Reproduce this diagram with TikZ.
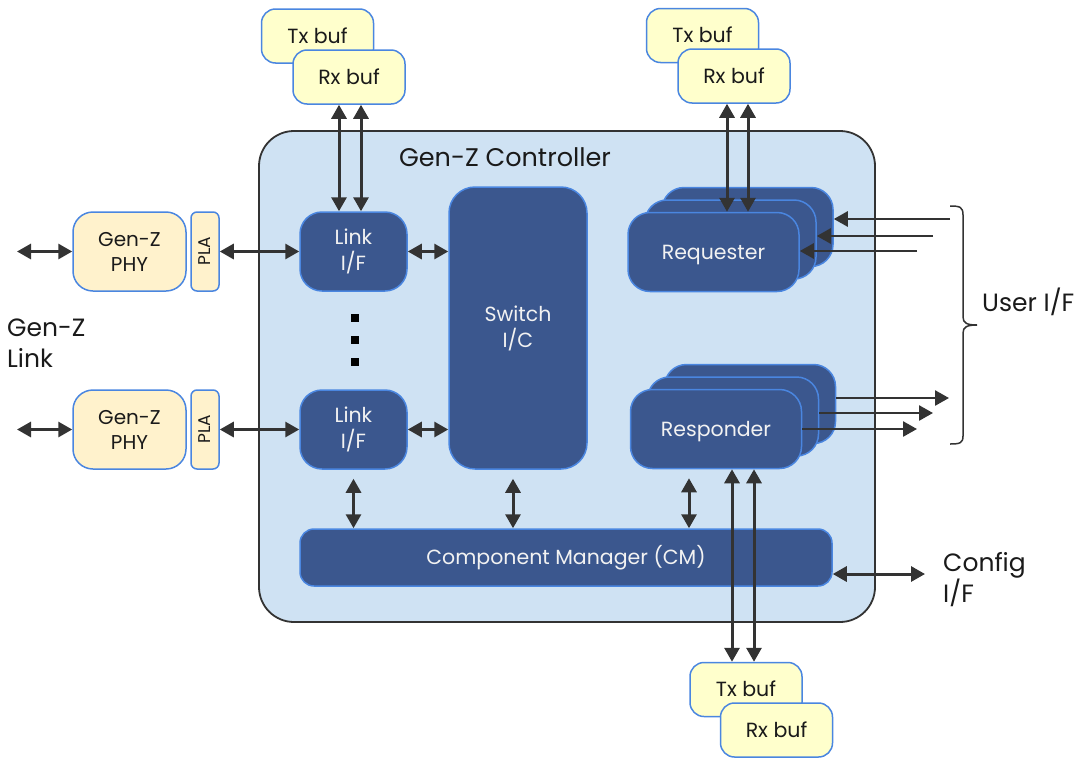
\documentclass[tikz,border=0pt]{standalone}
\usepackage{fontspec}
\setmainfont{Poppins}
\usetikzlibrary{arrows.meta}
\pgfdeclarelayer{bg}
\pgfdeclarelayer{lines}
\pgfsetlayers{bg,lines,main}
\definecolor{ctrlfill}{HTML}{CFE2F3}
\definecolor{ctrledge}{HTML}{333333}
\definecolor{dkfill}{HTML}{3B578E}
\definecolor{bedge}{HTML}{4A86E0}
\definecolor{phyfill}{HTML}{FFF2CC}
\definecolor{buffill}{HTML}{FFFFCC}
\definecolor{arr}{HTML}{333333}
\definecolor{txt}{HTML}{1A1A1A}
\tikzset{
  dbox/.style={draw=bedge, fill=dkfill, line width=1.5pt, text=white!95!black,
    align=center, inner sep=0pt, font=\fontsize{20.5}{26}\selectfont},
  one/.style={text height=19.4pt, text depth=5pt},
  ybox/.style={draw=bedge, fill=phyfill, line width=1.5pt, text=txt,
    align=center, inner sep=0pt, font=\fontsize{20}{25}\selectfont},
  bbox/.style={draw=bedge, fill=buffill, line width=1.5pt, text=txt,
    align=center, inner sep=0pt, font=\fontsize{20.5}{25}\selectfont,
    minimum width=112pt, minimum height=54pt, rounded corners=14pt,
    text height=19.4pt, text depth=5pt},
  plat/.style={rotate=90, text=txt, inner sep=0pt, font=\fontsize{17}{18}\selectfont,
    text height=15.9pt, text depth=4pt},
  tip/.tip={Triangle[length=14pt,width=15pt]},
  dbl/.style={tip-tip, line width=3pt, draw=arr},
  sarr/.style={-tip, line width=2.6pt, draw=arr},
  kline/.style={-tip, line width=2.6pt, draw=black!90},
  lbl/.style={text=txt, align=left, inner sep=0pt, font=\fontsize{25}{31}\selectfont},
}
\begin{document}
\begin{tikzpicture}[x=1pt, y=-1pt]
\useasboundingbox (0,0) rectangle (1075,758);
% controller
\node[draw=ctrledge, fill=ctrlfill, line width=1.8pt, rounded corners=35pt,
  minimum width=616pt, minimum height=491pt, inner sep=0pt] (ctrl) at (567,376.5) {};
\node[text=txt, inner sep=0pt, font=\fontsize{25.5}{30}\selectfont, text height=22.9pt, text depth=5pt] (title) at (505,158) {Gen-Z Controller};

% link interfaces
\node[dbox, minimum width=107pt, minimum height=79pt, rounded corners=22pt] (link1) at (353.5,251.5) {Link\\I/F};
\node[dbox, minimum width=107pt, minimum height=79pt, rounded corners=22pt] (link2) at (353.5,429.5) {Link\\I/F};
\foreach \yy/\nm in {318/d1,340/d2,362/d3}
  \node[fill=black, minimum size=8pt, inner sep=0pt] (\nm) at (355,\yy) {};

% switch
\node[dbox, minimum width=138pt, minimum height=282pt, rounded corners=26pt] (sw) at (518,328) {Switch\\I/C};

% requester stack
\node[dbox, minimum width=171pt, minimum height=79pt, rounded corners=22pt] (reqB) at (747.5,227) {};
\node[dbox, minimum width=171pt, minimum height=79pt, rounded corners=22pt] (reqM) at (730.5,239.5) {};
\node[dbox, one, minimum width=171pt, minimum height=79pt, rounded corners=22pt] (reqF) at (713.5,252) {Requester};

% responder stack
\node[dbox, minimum width=171pt, minimum height=79pt, rounded corners=22pt] (resB) at (750,404) {};
\node[dbox, minimum width=171pt, minimum height=79pt, rounded corners=22pt] (resM) at (733,416.5) {};
\node[dbox, one, minimum width=171pt, minimum height=79pt, rounded corners=22pt] (resF) at (716,429) {Responder};

% component manager
\node[dbox, one, minimum width=532pt, minimum height=57pt, rounded corners=14pt] (cm) at (566,557.5) {Component Manager (CM)};

% PHY + PLA
\node[ybox, minimum width=113pt, minimum height=79pt, rounded corners=20pt] (phy1) at (129.5,251.5) {Gen-Z\\PHY};
\node[ybox, minimum width=113pt, minimum height=79pt, rounded corners=20pt] (phy2) at (129.5,429.5) {Gen-Z\\PHY};
\node[ybox, minimum width=28pt, minimum height=79pt, rounded corners=6pt] (pla1) at (205,251.5) {};
\node[ybox, minimum width=28pt, minimum height=79pt, rounded corners=6pt] (pla2) at (205,429.5) {};
\node[plat] (pla1t) at (pla1) {PLA};
\node[plat] (pla2t) at (pla2) {PLA};

% buffers
\node[bbox] (txA) at (317.5,36) {Tx buf};
\node[bbox] (rxA) at (349,77) {Rx buf};
\node[bbox] (txB) at (702.5,35.5) {Tx buf};
\node[bbox] (rxB) at (734,76) {Rx buf};
\node[bbox] (txC) at (746,689.5) {Tx buf};
\node[bbox] (rxC) at (776.5,730) {Rx buf};

% outside labels
\node[lbl, anchor=north west] (glink) at (7,319) {Gen-Z\\Link};
\node[lbl, anchor=west] (uif) at (982,302) {User I/F};
\node[lbl, anchor=north west] (cfgl) at (943,552) {Config\\I/F};

% coordinates for free ends
\coordinate (e1) at (17,251.5);
\coordinate (e2) at (17,429.5);
\coordinate (cfg) at (925,574);
\coordinate (u1) at (950,219);
\coordinate (u2) at (933,236);
\coordinate (u3) at (917,251);
\coordinate (o1) at (949,398);
\coordinate (o2) at (933,413);
\coordinate (o3) at (917,429);

% left side arrows
\draw[dbl] (e1) -- (phy1.west);
\draw[dbl] (e2) -- (phy2.west);
\draw[dbl] (pla1.east) -- (link1.west);
\draw[dbl] (pla2.east) -- (link2.west);
\draw[dbl] (link1.east) -- (link1.east -| sw.west);
\draw[dbl] (link2.east) -- (link2.east -| sw.west);

% buffer arrows
\draw[dbl] ([xshift=-10pt]rxA.south) -- ([xshift=-10pt]rxA.south |- link1.north);
\draw[dbl] ([xshift=12pt]rxA.south) -- ([xshift=12pt]rxA.south |- link1.north);
\draw[dbl] ([xshift=-7pt]rxB.south) -- ([xshift=-7pt]rxB.south |- reqF.north);
\draw[dbl] ([xshift=14pt]rxB.south) -- ([xshift=14pt]rxB.south |- reqF.north);
\draw[dbl] ([xshift=-14pt]txC.north |- resF.south) -- ([xshift=-14pt]txC.north);
\draw[dbl] ([xshift=8pt]txC.north |- resF.south) -- ([xshift=8pt]txC.north);

% CM arrows
\draw[dbl] ([yshift=-9pt]link2.south) -- (link2.south |- cm.north);
\draw[dbl] ([xshift=-5pt,yshift=-9pt]sw.south) -- ([xshift=-5pt]sw.south |- cm.north);
\draw[dbl] ([xshift=-27pt,yshift=-9pt]resF.south) -- ([xshift=-27pt]resF.south |- cm.north);
\draw[dbl] ([yshift=-16.5pt]cm.east) -- (cfg);

% user inputs
\draw[sarr] (u1) -- (u1 -| reqB.east);
\draw[sarr] (u2) -- (u2 -| reqM.east);
\draw[sarr] (u3) -- (u3 -| reqF.east);
% user outputs
\draw[sarr] (o1 -| resB.east) -- (o1);
\draw[sarr] (o2 -| resM.east) -- (o2);
\draw[sarr] (o3 -| resF.east) -- (o3);

% hidden-behind lines
\begin{pgfonlayer}{lines}
\draw[kline] (u1 -| reqB.west) -- (u1 -| sw.east);
\draw[kline] (u2 -| reqM.west) -- (u2 -| sw.east);
\draw[sarr] (u3 -| reqF.west) -- (u3 -| sw.east);
\draw[kline, draw=black] (sw.east |- 0,397) -- (resB.west |- 0,397);
\draw[kline, draw=black] (sw.east |- 0,412) -- (resM.west |- 0,412);
\draw[sarr] (sw.east |- 0,429.5) -- (resF.west |- 0,429.5);
\end{pgfonlayer}

% brace
\draw[line width=1.5pt, draw=arr]
  (950,206) .. controls (960,206) and (963,207) .. (963,215) -- (963,317)
  .. controls (963,323) and (967,325) .. (977,325)
  .. controls (967,325) and (963,327) .. (963,333) -- (963,436)
  .. controls (963,443) and (960,444) .. (950,444);
\end{tikzpicture}
\end{document}
